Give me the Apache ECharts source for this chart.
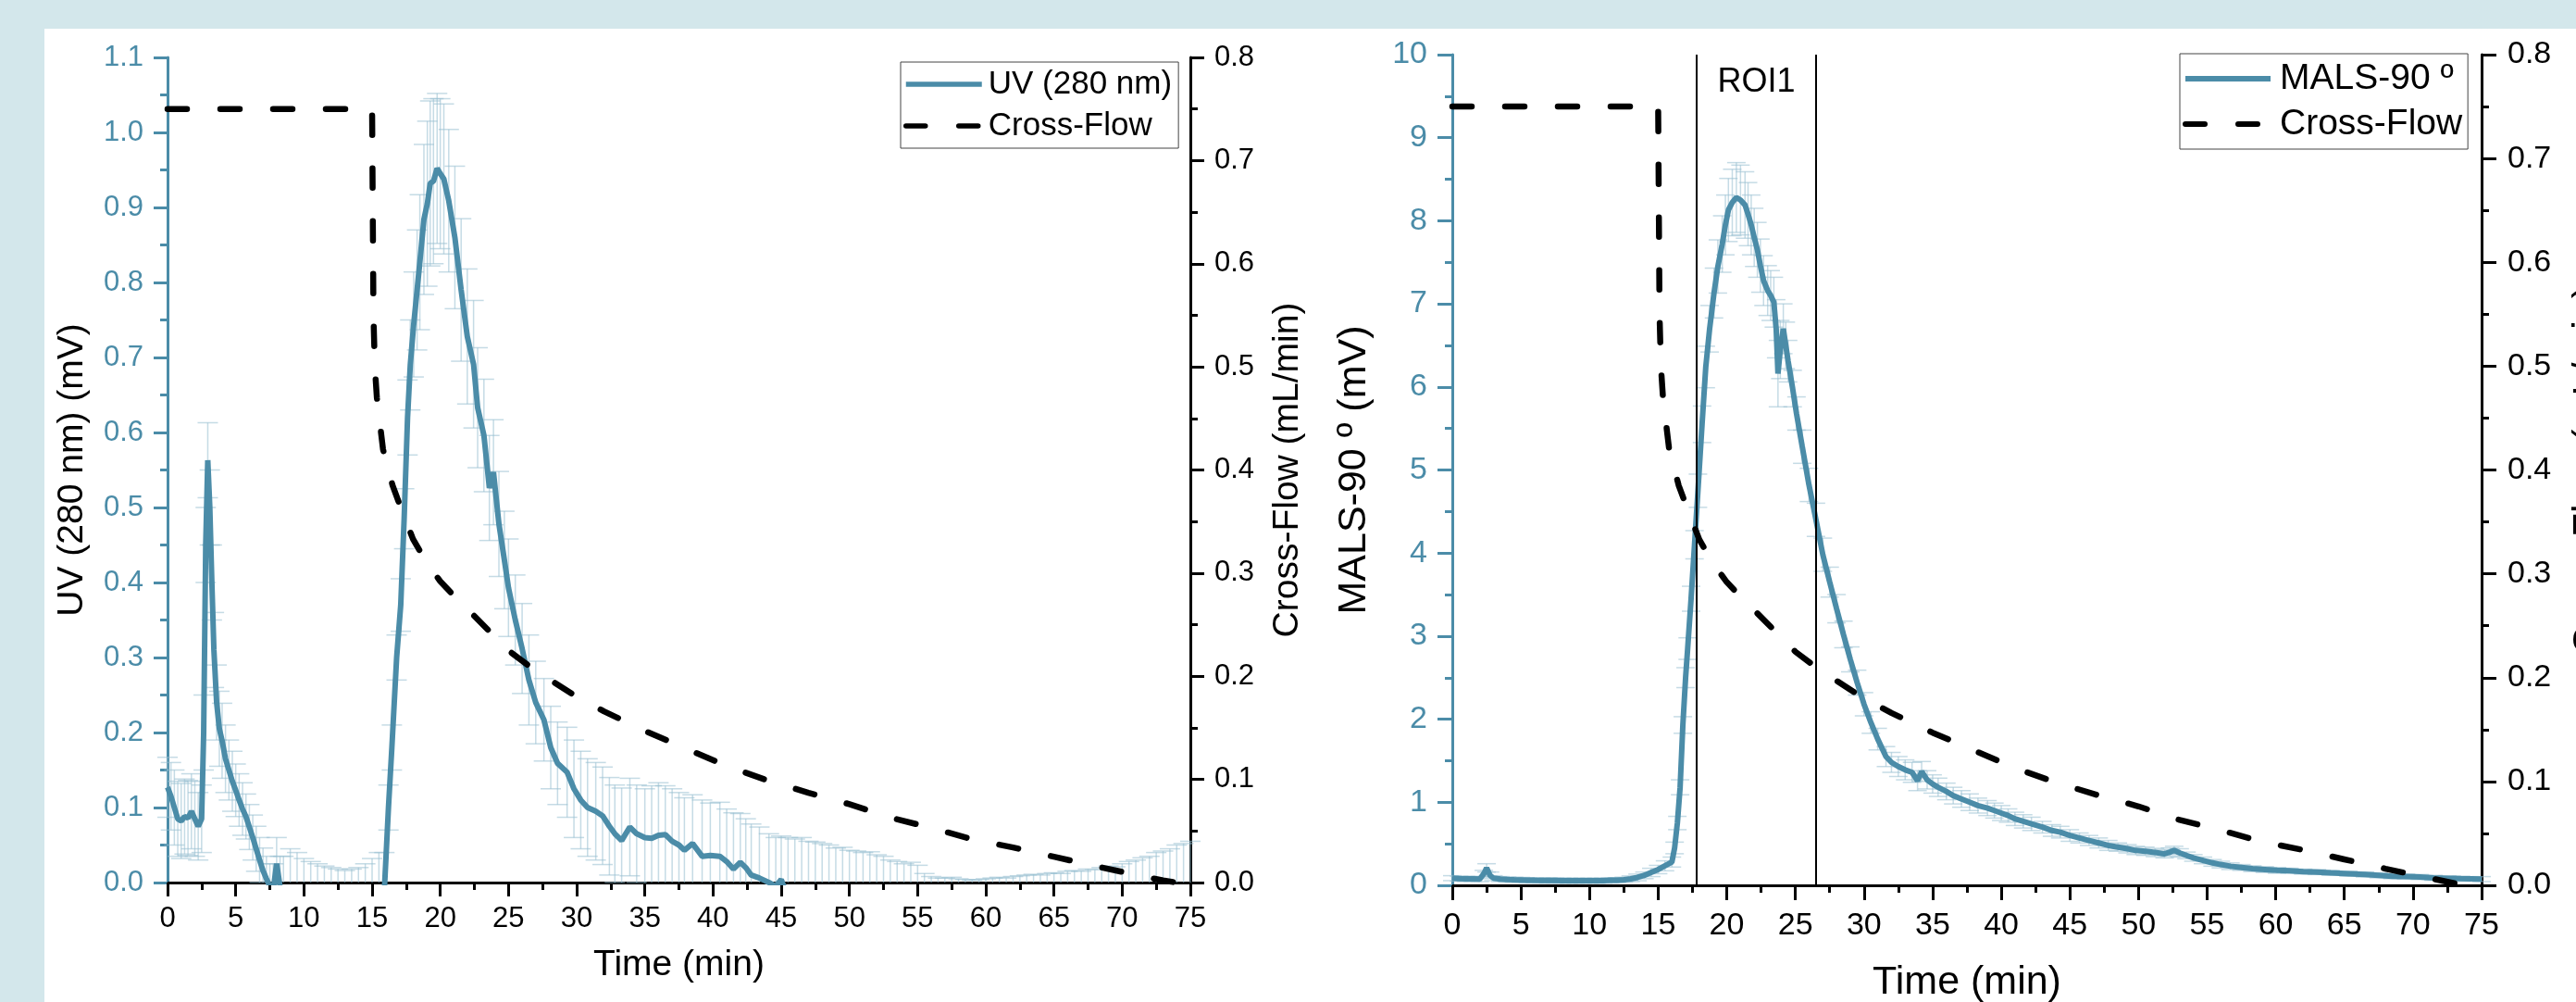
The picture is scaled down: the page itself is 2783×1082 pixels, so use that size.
<!DOCTYPE html>
<html><head><meta charset="utf-8">
<script src="https://cdn.jsdelivr.net/npm/echarts@6/dist/echarts.min.js"></script>
<style>
html,body{margin:0;padding:0;width:2783px;height:1082px;overflow:hidden;background:#d3e7eb;}
#panel{position:absolute;left:48px;top:31px;right:0;bottom:0;background:#fff;}
#chart{position:absolute;left:0;top:0;width:2783px;height:1082px;}
</style></head><body>
<div id="panel"></div><div id="chart"></div>
<script>
// ---------- DATA ----------
const timeTicks = {min: 0, max: 75, interval: 5};
const uvAxis = {min: 0, max: 1.1, interval: 0.1};
const malsAxis = {min: 0, max: 10, interval: 1};
const flowAxis = {min: 0, max: 0.8, interval: 0.1};
const roiBounds = [17.8, 26.5];
const roiLabel = 'ROI1';

// Cross-flow program [time (min), flow (mL/min)]
const crossFlow = [
  [0,0.75],[15.0,0.75],[15.05,0.65],[15.1,0.55],[15.2,0.50],[15.35,0.47],[15.8,0.42],[16.5,0.385],
  [17.2,0.36],[18.0,0.333],[19.0,0.31],[20.0,0.292],[21.0,0.278],[22.0,0.265],[23.5,0.245],[25.0,0.225],
  [26.5,0.21],[28.0,0.197],[30.0,0.18],[32.0,0.166],[35.0,0.147],[38.0,0.13],[41.0,0.113],[44.0,0.099],
  [47.0,0.087],[50.0,0.076],[53.0,0.063],[56.0,0.053],[59.0,0.042],[62.0,0.034],[65.0,0.025],[68.0,0.016],
  [71.0,0.0075],[73.0,0.002],[74.0,0.0]
];

// UV (280 nm) [time, mean (mV), sd]
const uvPoints = [
  [0,0.127,0.04],[0.25,0.115,0.045],[0.5,0.10,0.05],[0.75,0.085,0.05],[1,0.082,0.05],[1.25,0.088,0.05],
  [1.5,0.086,0.05],[1.75,0.095,0.05],[2,0.085,0.05],[2.25,0.075,0.045],[2.5,0.085,0.045],[2.65,0.2,0.05],
  [2.8,0.45,0.05],[2.95,0.563,0.05],[3.1,0.50,0.05],[3.25,0.40,0.05],[3.4,0.31,0.05],[3.6,0.24,0.05],
  [3.8,0.205,0.05],[4,0.189,0.05],[4.25,0.165,0.045],[4.5,0.15,0.04],[4.75,0.135,0.04],[5,0.123,0.035],
  [5.25,0.11,0.035],[5.5,0.098,0.035],[5.75,0.088,0.03],[6,0.074,0.03],[6.25,0.06,0.03],[6.5,0.045,0.03],
  [6.75,0.03,0.03],[7,0.016,0.03],[7.25,0.005,0.03],[7.5,-0.005,0.03],[7.75,-0.01,0.035],[8,0.025,0.035],
  [8.25,-0.005,0.04],[8.5,-0.015,0.05],[9,-0.02,0.065],[9.5,-0.02,0.06],[10,-0.02,0.052],[10.5,-0.02,0.048],
  [11,-0.02,0.045],[11.5,-0.02,0.042],[12,-0.02,0.04],[12.5,-0.02,0.038],[13,-0.02,0.036],[13.5,-0.02,0.038],
  [14,-0.02,0.04],[14.5,-0.02,0.045],[15,-0.02,0.052],[15.5,-0.02,0.06],[15.9,-0.01,0.05],[16.2,0.1,0.03],
  [16.45,0.18,0.03],[16.8,0.30,0.03],[17.1,0.37,0.035],[17.35,0.485,0.04],[17.6,0.62,0.05],[17.8,0.69,0.06],
  [18.05,0.744,0.07],[18.3,0.79,0.08],[18.5,0.827,0.09],[18.8,0.884,0.1],[19.05,0.905,0.11],[19.26,0.932,0.11],
  [19.5,0.935,0.11],[19.77,0.952,0.1],[20,0.945,0.1],[20.26,0.938,0.1],[20.62,0.909,0.095],[21.07,0.86,0.095],
  [21.53,0.79,0.095],[21.98,0.728,0.09],[22.44,0.691,0.085],[22.74,0.633,0.08],[23.2,0.596,0.075],
  [23.6,0.526,0.07],[23.9,0.547,0.07],[24.3,0.478,0.07],[24.7,0.43,0.065],[25,0.393,0.065],[25.5,0.35,0.06],
  [26,0.312,0.06],[26.5,0.27,0.06],[27,0.24,0.055],[27.6,0.217,0.055],[28.1,0.18,0.055],[28.6,0.159,0.055],
  [29.3,0.147,0.06],[29.8,0.125,0.065],[30.3,0.11,0.065],[30.8,0.10,0.065],[31.4,0.095,0.065],[31.9,0.089,0.065],
  [32.4,0.075,0.065],[32.8,0.065,0.065],[33.3,0.056,0.07],[33.9,0.074,0.065],[34.4,0.065,0.065],[35,0.06,0.065],
  [35.5,0.059,0.07],[36,0.063,0.07],[36.5,0.064,0.065],[37,0.055,0.07],[37.5,0.05,0.07],[37.9,0.043,0.07],
  [38.5,0.052,0.065],[39.2,0.035,0.075],[39.8,0.036,0.07],[40.5,0.035,0.072],[41,0.028,0.07],[41.5,0.018,0.075],
  [42,0.027,0.065],[42.4,0.02,0.065],[42.8,0.01,0.068],[43.4,0.006,0.068],[44.1,0.0,0.065],[44.6,-0.005,0.065],
  [45,0.004,0.058],[45.5,-0.02,0.08],[46,-0.02,0.078],[46.5,-0.02,0.08],[47,-0.02,0.075],[47.5,-0.02,0.074],
  [48,-0.02,0.072],[48.5,-0.02,0.07],[49,-0.02,0.066],[49.5,-0.02,0.067],[50,-0.02,0.063],[50.5,-0.02,0.062],
  [51,-0.02,0.06],[51.5,-0.02,0.061],[52,-0.02,0.057],[52.5,-0.02,0.055],[53,-0.02,0.05],[53.5,-0.02,0.048],
  [54,-0.02,0.045],[54.5,-0.02,0.047],[55,-0.02,0.043],[55.5,-0.02,0.032],[56,-0.02,0.028],[56.5,-0.02,0.026],
  [57,-0.02,0.026],[57.5,-0.02,0.027],[58,-0.02,0.025],[58.5,-0.02,0.024],[59,-0.02,0.023],[59.5,-0.02,0.024],
  [60,-0.02,0.025],[60.5,-0.02,0.026],[61,-0.02,0.027],[61.5,-0.02,0.026],[62,-0.02,0.028],[62.5,-0.02,0.029],
  [63,-0.02,0.03],[63.5,-0.02,0.031],[64,-0.02,0.03],[64.5,-0.02,0.032],[65,-0.02,0.033],[65.5,-0.02,0.032],
  [66,-0.02,0.035],[66.5,-0.02,0.036],[67,-0.02,0.035],[67.5,-0.02,0.038],[68,-0.02,0.037],[68.5,-0.02,0.04],
  [69,-0.02,0.042],[69.5,-0.02,0.041],[70,-0.02,0.045],[70.5,-0.02,0.048],[71,-0.02,0.05],[71.5,-0.02,0.053],
  [72,-0.02,0.055],[72.5,-0.02,0.06],[73,-0.02,0.062],[73.5,-0.02,0.065],[74,-0.02,0.07],[74.5,-0.02,0.072],
  [75,-0.02,0.075]
];

// MALS-90 [time, mean (mV), sd]
const malsPoints = [
  [0,0.086,0.03],[0.5,0.08,0.03],[1,0.078,0.03],[1.5,0.077,0.03],[2,0.075,0.03],[2.3,0.14,0.04],[2.5,0.21,0.05],
  [2.75,0.12,0.04],[3,0.086,0.03],[3.5,0.075,0.03],[4,0.07,0.03],[4.5,0.067,0.03],[5,0.065,0.03],[5.5,0.062,0.03],
  [6,0.06,0.03],[6.5,0.059,0.03],[7,0.058,0.03],[7.5,0.058,0.03],[8,0.057,0.03],[8.5,0.056,0.03],[9,0.056,0.03],
  [9.5,0.056,0.03],[10,0.056,0.03],[10.5,0.056,0.03],[11,0.057,0.03],[11.5,0.06,0.03],[12,0.062,0.03],
  [12.5,0.068,0.03],[13,0.078,0.035],[13.5,0.095,0.04],[14,0.12,0.04],[14.5,0.155,0.05],[15,0.19,0.05],
  [15.5,0.235,0.06],[16,0.28,0.06],[16.2,0.45,0.07],[16.4,0.75,0.08],[16.6,1.18,0.09],[16.8,1.93,0.1],
  [17,2.5,0.12],[17.15,2.85,0.13],[17.4,3.45,0.15],[17.65,4.1,0.17],[17.9,4.75,0.2],[18.2,5.55,0.22],
  [18.47,6.24,0.25],[18.75,6.7,0.28],[19.07,7.13,0.3],[19.35,7.45,0.32],[19.67,7.72,0.34],[19.9,7.95,0.36],
  [20.12,8.13,0.38],[20.4,8.22,0.4],[20.7,8.28,0.42],[21,8.25,0.42],[21.33,8.19,0.4],[21.55,8.08,0.38],
  [21.78,7.95,0.36],[22,7.8,0.35],[22.23,7.65,0.33],[22.45,7.46,0.32],[22.68,7.28,0.3],[22.98,7.16,0.3],
  [23.2,7.1,0.3],[23.43,7.02,0.3],[23.6,6.7,0.35],[23.73,6.16,0.4],[23.9,6.45,0.35],[24.12,6.7,0.3],
  [24.3,6.5,0.28],[24.47,6.31,0.25],[24.8,5.98,0.22],[25.08,5.68,0.2],[25.5,5.28,0.2],[25.99,4.82,0.2],
  [26.5,4.4,0.2],[27,3.98,0.2],[27.5,3.65,0.18],[28,3.33,0.17],[28.5,3.02,0.16],[29,2.72,0.15],[29.5,2.44,0.15],
  [30,2.18,0.14],[30.5,1.96,0.13],[31,1.76,0.13],[31.6,1.55,0.12],[32,1.48,0.12],[32.5,1.43,0.12],[33,1.39,0.12],
  [33.5,1.36,0.12],[33.9,1.26,0.12],[34.2,1.37,0.12],[34.6,1.27,0.11],[35,1.22,0.11],[35.4,1.18,0.11],
  [36,1.13,0.1],[36.5,1.08,0.1],[37.1,1.04,0.1],[37.7,1.0,0.1],[38.3,0.96,0.09],[39,0.93,0.09],[39.5,0.9,0.09],
  [40,0.87,0.09],[40.5,0.84,0.08],[41,0.8,0.08],[41.6,0.77,0.08],[42.2,0.74,0.08],[43,0.7,0.07],[43.7,0.66,0.07],
  [44.3,0.64,0.07],[45,0.6,0.07],[45.7,0.57,0.06],[46.4,0.54,0.06],[47.1,0.51,0.06],[47.8,0.48,0.06],
  [48.5,0.46,0.05],[49.2,0.44,0.05],[49.8,0.42,0.05],[50.5,0.41,0.05],[51.2,0.395,0.05],[51.9,0.38,0.05],
  [52.3,0.4,0.05],[52.6,0.42,0.05],[53,0.39,0.05],[53.5,0.36,0.04],[54,0.33,0.04],[54.7,0.3,0.04],
  [55.4,0.27,0.04],[56,0.25,0.04],[56.7,0.23,0.04],[57.5,0.215,0.035],[58.3,0.2,0.035],[59.2,0.19,0.035],
  [60.1,0.18,0.035],[61,0.175,0.03],[62,0.165,0.03],[63,0.16,0.03],[64,0.15,0.03],[65.3,0.14,0.03],
  [66.5,0.13,0.03],[67.5,0.12,0.03],[68.5,0.11,0.03],[69.5,0.105,0.03],[70.5,0.1,0.03],[71.5,0.09,0.03],
  [72.5,0.085,0.03],[73.5,0.08,0.03],[75,0.075,0.03]
];

// ---------- STYLE ----------
const FONT = "'Liberation Sans', Arial, sans-serif";
const TEAL = '#4b8ca8';
const ERR = 'rgba(150,190,208,0.55)';
const DASH = {color: '#000', width: 6.5, type: [21, 36], cap: 'round'};

function errorBars(capHalf) {
  return function (params, api) {
    const cs = params.coordSys;
    const x = api.value(0), y = api.value(1), e = api.value(2);
    const pt = api.coord([x, y + e]);
    const pb = api.coord([x, y - e]);
    const yMin = cs.y, yMax = cs.y + cs.height;
    const children = [];
    const t = Math.max(pt[1], yMin), b = Math.min(pb[1], yMax);
    if (t < b) children.push({type: 'line', shape: {x1: pt[0], y1: t, x2: pt[0], y2: b}, style: {stroke: ERR, lineWidth: 1.5}});
    [pt[1], pb[1]].forEach(function (yy) {
      if (yy >= yMin && yy <= yMax) {
        children.push({type: 'line', shape: {x1: pt[0] - capHalf, y1: yy, x2: pt[0] + capHalf, y2: yy}, style: {stroke: ERR, lineWidth: 1.5}});
      }
    });
    return {type: 'group', children: children};
  };
}

function xAxisDef(grid, fs, nfs, gap, margin, tickLen) {
  return {
    gridIndex: grid, type: 'value', min: timeTicks.min, max: timeTicks.max, interval: timeTicks.interval,
    axisLine: {onZero: false, lineStyle: {color: '#000', width: 3}},
    axisTick: {length: tickLen, lineStyle: {color: '#000', width: 3}},
    minorTick: {show: true, splitNumber: 2, length: 8, lineStyle: {color: '#000', width: 3}},
    splitLine: {show: false},
    axisLabel: {fontFamily: FONT, fontSize: fs, color: '#000', margin: margin},
    name: 'Time (min)', nameLocation: 'middle', nameGap: gap,
    nameTextStyle: {fontFamily: FONT, fontSize: nfs, color: '#000'}
  };
}
function yAxisDef(grid, pos, range, color, name, fs, nfs, gap, margin, decimals, tickLen) {
  return {
    gridIndex: grid, type: 'value', position: pos, min: range.min, max: range.max, interval: range.interval,
    axisLine: {show: true, onZero: false, lineStyle: {color: color, width: 3}},
    axisTick: {show: true, length: tickLen, lineStyle: {color: color, width: 3}},
    minorTick: {show: true, splitNumber: 2, length: 8, lineStyle: {color: color, width: 3}},
    splitLine: {show: false},
    axisLabel: {fontFamily: FONT, fontSize: fs, color: color, margin: margin,
      formatter: function (v) { return v.toFixed(decimals); }},
    name: name, nameLocation: 'middle', nameRotate: 90, nameGap: gap,
    nameTextStyle: {fontFamily: FONT, fontSize: nfs, color: '#000'}
  };
}

const chart = echarts.init(document.getElementById('chart'), null, {renderer: 'canvas'});
chart.setOption({
  animation: false,
  backgroundColor: 'transparent',
  grid: [
    {left: 181, top: 62, width: 1105, height: 891, outerBoundsMode: 'none', containLabel: false},
    {left: 1569, top: 59, width: 1112, height: 897, outerBoundsMode: 'none', containLabel: false}
  ],
  xAxis: [
    xAxisDef(0, 31, 39, 70, 24, 15),
    xAxisDef(1, 34, 43, 84, 27, 16)
  ],
  yAxis: [
    yAxisDef(0, 'left', uvAxis, TEAL, 'UV (280 nm) (mV)', 31, 39, 83, 26, 1, 15),
    yAxisDef(0, 'right', flowAxis, '#000', 'Cross-Flow (mL/min)', 31, 39, 86, 26, 1, 15),
    yAxisDef(1, 'left', malsAxis, TEAL, 'MALS-90 º (mV)', 34, 43, 84, 27, 0, 16),
    yAxisDef(1, 'right', flowAxis, '#000', 'Cross-Flow (mL/min)', 34, 43, 95, 28, 1, 16)
  ],
  legend: [
    {
      left: 973, top: 67, orient: 'vertical', data: ['UV (280 nm)', 'Cross-Flow'],
      itemWidth: 82, itemHeight: 20, itemGap: 9, padding: [6, 7, 6, 3],
      borderColor: '#444', borderWidth: 1, backgroundColor: '#fff', selectedMode: false,
      itemStyle: {opacity: 0, borderWidth: 0},
      lineStyle: {width: 5.5},
      textStyle: {fontFamily: FONT, fontSize: 35, color: '#000', lineHeight: 36, padding: [0, 0, 0, 2]}
    },
    {
      left: 2355, top: 58, orient: 'vertical', data: ['MALS-90 º', 'Cross-Flow'],
      itemWidth: 92, itemHeight: 20, itemGap: 9, padding: [7, 6, 7, 3],
      borderColor: '#444', borderWidth: 1, backgroundColor: '#fff', selectedMode: false,
      itemStyle: {opacity: 0, borderWidth: 0},
      lineStyle: {width: 6},
      textStyle: {fontFamily: FONT, fontSize: 39, color: '#000', lineHeight: 40, padding: [0, 0, 0, 5]}
    }
  ],
  series: [
    {name: 'UV error', type: 'custom', xAxisIndex: 0, yAxisIndex: 0, data: uvPoints,
      encode: {x: 0, y: 1}, renderItem: errorBars(11), z: 1, silent: true},
    {name: 'UV (280 nm)', type: 'line', xAxisIndex: 0, yAxisIndex: 0,
      data: uvPoints.map(function (p) { return [p[0], p[1]]; }),
      showSymbol: false, symbol: 'none', clip: true, z: 3,
      lineStyle: {color: TEAL, width: 6}, itemStyle: {color: TEAL}},
    {name: 'Cross-Flow', type: 'line', xAxisIndex: 0, yAxisIndex: 1, data: crossFlow,
      showSymbol: false, symbol: 'none', clip: true, z: 4,
      lineStyle: DASH, itemStyle: {color: '#000'}},

    {name: 'MALS error', type: 'custom', xAxisIndex: 1, yAxisIndex: 2, data: malsPoints,
      encode: {x: 0, y: 1}, renderItem: errorBars(10), z: 1, silent: true},
    {name: 'MALS-90 º', type: 'line', xAxisIndex: 1, yAxisIndex: 2,
      data: malsPoints.map(function (p) { return [p[0], p[1]]; }),
      showSymbol: false, symbol: 'none', clip: true, z: 3,
      lineStyle: {color: TEAL, width: 6}, itemStyle: {color: TEAL},
      markLine: {silent: true, symbol: 'none', label: {show: false},
        lineStyle: {color: '#000', width: 2, type: 'solid'},
        data: [{xAxis: roiBounds[0]}, {xAxis: roiBounds[1]}]},
      markArea: {silent: true, itemStyle: {color: 'rgba(0,0,0,0)'},
        label: {show: true, position: 'insideTop', distance: 12, fontFamily: FONT, fontSize: 36, color: '#000'},
        data: [[{name: roiLabel, xAxis: roiBounds[0]}, {xAxis: roiBounds[1]}]]}},
    {name: 'Cross-Flow', type: 'line', xAxisIndex: 1, yAxisIndex: 3, data: crossFlow,
      showSymbol: false, symbol: 'none', clip: true, z: 4,
      lineStyle: DASH, itemStyle: {color: '#000'}}
  ]
});
</script></body></html>
